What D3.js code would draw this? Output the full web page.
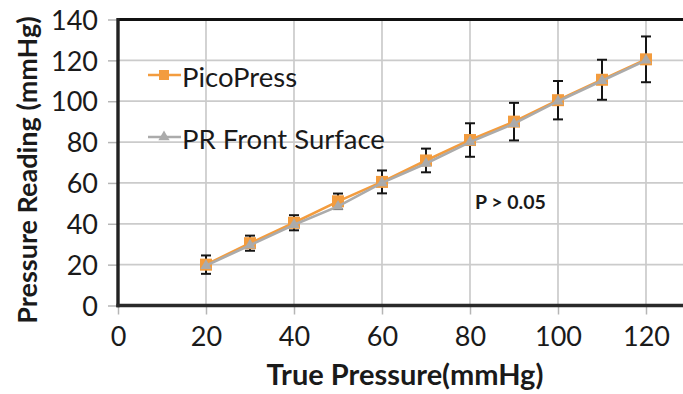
<!DOCTYPE html>
<html>
<head>
<meta charset="utf-8">
<script src="https://cdn.jsdelivr.net/npm/d3@7"></script>
<style>
  html, body { margin: 0; padding: 0; background: #fff; }
  svg { display: block; font-family: Lato, "Open Sans", sans-serif; }
</style>
</head>
<body>
<svg id="chart" width="683" height="394"></svg>
<script>
// True applied pressure (mmHg)
const truePressure = [20, 30, 40, 50, 60, 70, 80, 90, 100, 110, 120];
// Readings from the PicoPress device
const picoPress = [20, 30.5, 40.5, 51, 60.5, 71, 81, 90, 100.5, 110.5, 120.5];
// Standard deviation of the PicoPress readings
const picoPressSD = [4.5, 3.7, 3.7, 3.8, 5.6, 5.8, 8.2, 9.2, 9.4, 9.8, 11.2];
// Readings at the PR front surface
const prFrontSurface = [19.5, 29.5, 39.5, 48.5, 60, 69.5, 80, 89, 100, 110, 120];

const xTicks = [0, 20, 40, 60, 80, 100, 120];
const yTicks = [0, 20, 40, 60, 80, 100, 120, 140];

const seriesNames = ["PicoPress", "PR Front Surface"];
const seriesColors = ["#F39C3E", "#ABABAB"];

const svg = d3.select("#chart");

// Plot frame: the right end of the x range runs past the drawing edge
const plotLeft = 118, plotTop = 19.5, plotBottom = 305.5, plotRight = 734, edge = 683;
const x = d3.scaleLinear().domain([0, 140]).range([plotLeft, plotRight]);
const y = d3.scaleLinear().domain([0, 140]).range([plotBottom, plotTop]);

// Gridlines
const grid = svg.append("g").attr("stroke", "#cbcbcb").attr("stroke-width", 1.7);
grid.selectAll("line.h").data(yTicks.slice(1)).join("line")
  .attr("x1", plotLeft).attr("x2", edge)
  .attr("y1", d => y(d)).attr("y2", d => y(d));
grid.selectAll("line.v").data(xTicks.slice(1)).join("line")
  .attr("y1", plotTop).attr("y2", plotBottom)
  .attr("x1", d => x(d)).attr("x2", d => x(d));

// Axes
const yAxis = svg.append("g")
  .attr("transform", `translate(${plotLeft},0)`)
  .call(d3.axisLeft(y).tickValues(yTicks).tickSize(10).tickPadding(10));
const xAxis = svg.append("g")
  .attr("transform", `translate(0,${plotBottom})`)
  .call(d3.axisBottom(x).tickValues(xTicks).tickSize(9).tickPadding(9));

[yAxis, xAxis].forEach(g => {
  g.select(".domain").remove();
  g.selectAll(".tick line").attr("stroke", "#b5b5b5").attr("stroke-width", 1.5);
  g.selectAll(".tick text")
    .attr("fill", "#1a1a1a")
    .style("font-family", "Lato, sans-serif")
    .style("font-size", "27px");
});
yAxis.selectAll(".tick text").attr("dy", "0.36em");
xAxis.selectAll(".tick text").attr("dy", "0.85em");

// Frame lines
svg.append("line").attr("x1", plotLeft).attr("x2", edge).attr("y1", plotTop).attr("y2", plotTop)
  .attr("stroke", "#111").attr("stroke-width", 3.2);
svg.append("line").attr("x1", plotLeft).attr("x2", plotLeft).attr("y1", plotTop - 1.5).attr("y2", plotBottom + 1.8)
  .attr("stroke", "#222").attr("stroke-width", 3.4);
svg.append("line").attr("x1", plotLeft - 1.6).attr("x2", edge).attr("y1", plotBottom).attr("y2", plotBottom)
  .attr("stroke", "#2a2a2a").attr("stroke-width", 3.6);

// Error bars
const eb = svg.append("g").attr("stroke", "#151515").attr("stroke-width", 2);
truePressure.forEach((t, i) => {
  const cx = x(t), y1 = y(picoPress[i] + picoPressSD[i]), y0 = y(picoPress[i] - picoPressSD[i]);
  eb.append("line").attr("x1", cx).attr("x2", cx).attr("y1", y1).attr("y2", y0);
  eb.append("line").attr("x1", cx - 5).attr("x2", cx + 5).attr("y1", y1).attr("y2", y1);
  eb.append("line").attr("x1", cx - 5).attr("x2", cx + 5).attr("y1", y0).attr("y2", y0);
});

const line = d3.line().x(d => x(d[0])).y(d => y(d[1]));

// PicoPress series
const pico = truePressure.map((t, i) => [t, picoPress[i]]);
svg.append("path").datum(pico).attr("d", line)
  .attr("fill", "none").attr("stroke", seriesColors[0]).attr("stroke-width", 2.6);
svg.append("g").selectAll("rect").data(pico).join("rect")
  .attr("x", d => x(d[0]) - 6).attr("y", d => y(d[1]) - 6)
  .attr("width", 12).attr("height", 12).attr("fill", seriesColors[0]);

// PR front surface series
const pr = truePressure.map((t, i) => [t, prFrontSurface[i]]);
svg.append("path").datum(pr).attr("d", line)
  .attr("fill", "none").attr("stroke", seriesColors[1]).attr("stroke-width", 2.6);
const tri = d3.symbol().type(d3.symbolTriangle).size(55);
svg.append("g").selectAll("path").data(pr).join("path")
  .attr("d", tri)
  .attr("transform", d => `translate(${x(d[0])},${y(d[1])})`)
  .attr("fill", seriesColors[1]);

// Legend
const legendY = [75, 137];
seriesNames.forEach((name, i) => {
  const g = svg.append("g");
  g.append("line").attr("x1", 148).attr("x2", 181).attr("y1", legendY[i]).attr("y2", legendY[i])
    .attr("stroke", seriesColors[i]).attr("stroke-width", 2.6);
  if (i === 0) {
    g.append("rect").attr("x", 159).attr("y", legendY[i] - 5).attr("width", 10).attr("height", 10)
      .attr("fill", seriesColors[i]);
  } else {
    g.append("path").attr("d", tri).attr("transform", `translate(164,${legendY[i]})`)
      .attr("fill", seriesColors[i]);
  }
  g.append("text").attr("x", 182).attr("y", legendY[i] + 11.5)
    .attr("fill", "#1a1a1a").style("font-size", "27.5px").text(name);
});

// Significance note
svg.append("text").attr("x", 475).attr("y", 209)
  .attr("fill", "#1a1a1a").style("font-size", "19.5px").style("font-weight", "bold")
  .text("P > 0.05");

// Axis titles
svg.append("text").attr("x", 405).attr("y", 385).attr("text-anchor", "middle")
  .attr("fill", "#1a1a1a").style("font-size", "29px").style("font-weight", "bold")
  .text("True Pressure(mmHg)");
svg.append("text")
  .attr("transform", "translate(37,170) rotate(-90)")
  .attr("text-anchor", "middle")
  .attr("fill", "#1a1a1a").style("font-size", "27px").style("font-weight", "bold")
  .text("Pressure Reading (mmHg)");
</script>
</body>
</html>
